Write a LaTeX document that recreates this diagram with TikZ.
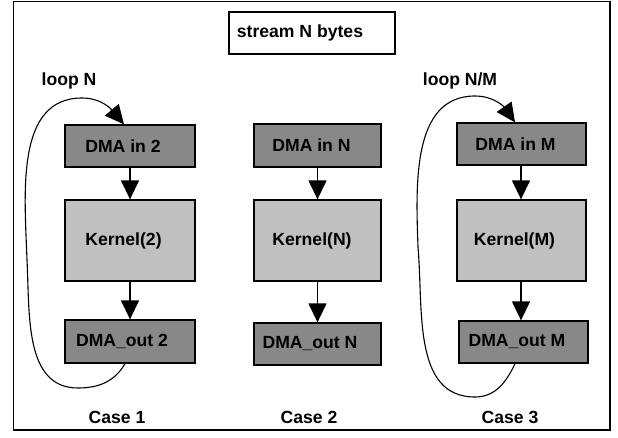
\documentclass[tikz,border=0pt]{standalone}
\usepackage{fontspec}
\setmainfont{Liberation Sans}
\usetikzlibrary{arrows.meta}
\definecolor{darkbox}{RGB}{136,136,136}
\definecolor{lightbox}{RGB}{192,192,192}
\newcommand{\padr}[1]{\rule{#1}{0pt}}
\begin{document}
\begin{tikzpicture}[x=1pt,y=1pt,
  font=\fontsize{17.6}{20}\selectfont\bfseries,
  boxbase/.style={draw=black, line width=1.3pt, rectangle, inner sep=0pt},
  dbox/.style={boxbase, fill=darkbox},
  lbox/.style={boxbase, fill=lightbox},
  flow/.style={line width=1.4pt, -{Triangle[width=18pt,length=19pt]}},
  loopline/.style={line width=1.1pt, -{Triangle[width=18pt,length=19pt]}},
  lbl/.style={inner sep=0pt}]
\useasboundingbox (0,0) rectangle (618,437);
\draw[line width=1.8pt, fill=white] (13.5,7) rectangle (610,435.5);

% stream box
\node[boxbase, fill=white, minimum width=166pt, minimum height=42pt] (stream) at (312,404) {stream N bytes\padr{24pt}};

% Case 1
\node[dbox, minimum width=130pt, minimum height=42pt] (in2) at (130,291) {DMA in 2\padr{14pt}};
\node[lbox, minimum width=130pt, minimum height=81pt] (k2) at (130,196.5) {Kernel(2)\padr{13pt}};
\node[dbox, minimum width=130pt, minimum height=43pt] (out2) at (130,95.5) {DMA\_out 2\padr{16pt}};
% Case 2
\node[dbox, minimum width=127pt, minimum height=43pt] (inN) at (317.5,291.5) {DMA in N\padr{12pt}};
\node[lbox, minimum width=127pt, minimum height=81pt] (kN) at (317.5,196.5) {Kernel(N)\padr{11pt}};
\node[dbox, minimum width=127pt, minimum height=42pt] (outN) at (317.5,93) {DMA\_out N\padr{15pt}};
% Case 3
\node[dbox, minimum width=129pt, minimum height=42pt] (inM) at (521.5,293) {DMA in M\padr{12pt}};
\node[lbox, minimum width=129pt, minimum height=81pt] (kM) at (521.5,196.5) {Kernel(M)\padr{14pt}};
\node[dbox, minimum width=129pt, minimum height=42pt] (outM) at (523.5,95) {DMA\_out M\padr{13pt}};

% labels
\node[lbl] (loopN) at (69,356) {loop N};
\node[lbl] (loopNM) at (460,356) {loop N/M};
\node[lbl] (case1) at (117,20) {Case 1};
\node[lbl] (case2) at (309,20) {Case 2};
\node[lbl] (case3) at (510,20) {Case 3};

% flow arrows
\draw[flow] (in2.south) -- (k2.north);
\draw[flow] (k2.south) -- (out2.north);
\draw[flow] (inN.south) -- (kN.north);
\draw[flow] (kN.south) -- (outN.north);
\draw[flow] ([xshift=-0.5pt]inM.south) -- ([xshift=-0.5pt]kM.north);
\draw[flow] ([xshift=-0.5pt]kM.south) -- ([xshift=-0.5pt]kM.south |- outM.north);

% loops
\draw[loopline] ([xshift=-5pt]out2.south) to[out=-120,in=0] (78,49)
  to[out=180,in=-87] (27,177) to[out=92,in=180] (82,339)
  to[out=0,in=130] ([xshift=-6pt]in2.north);
\draw[loopline] ([xshift=-8.5pt]outM.south) to[out=-115,in=0] (475,40)
  to[out=180,in=-85] (418,190) to[out=92,in=180] (475,341)
  to[out=0,in=125] ([xshift=-6.5pt]inM.north);
\end{tikzpicture}
\end{document}
